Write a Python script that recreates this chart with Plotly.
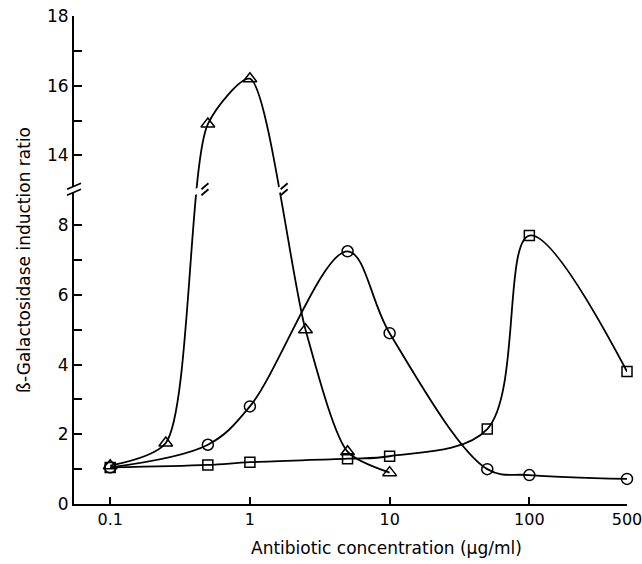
import math
import plotly.graph_objects as go

# values (x = antibiotic concentration, y = induction ratio)
conc_tri = [0.1, 0.25, 0.5, 1, 2.5, 5, 10]
ratio_tri = [1.1, 1.75, 14.9, 16.2, 5.0, 1.5, 0.9]

conc_circ = [0.1, 0.5, 1, 5, 10, 50, 100, 500]
ratio_circ = [1.05, 1.7, 2.8, 7.25, 4.9, 1.0, 0.83, 0.72]

conc_sq = [0.1, 0.5, 1, 5, 10, 50, 100, 500]
ratio_sq = [1.05, 1.12, 1.2, 1.3, 1.37, 2.15, 7.7, 3.8]

x_ticks = [0.1, 1, 10, 100, 500]
y_labels = [0, 2, 4, 6, 8, 14, 16, 18]
y_minor = [1, 3, 5, 7, 15, 17]

BREAK_LO, BREAK_HI = 8, 12   # axis jumps from 8 to 12 (drawn as 8 -> 14 two units later)


def to_axis(v):
    # broken y axis: values above the break are shifted down
    return v if v <= BREAK_LO else v - (BREAK_HI - BREAK_LO)


FONT = "DejaVu Sans"
fig = go.Figure()

for xs, ys, sym, size, sm in [(conc_tri, ratio_tri, "triangle-up-open", 12, 0.7),
                              (conc_circ, ratio_circ, "circle-open", 11, 1),
                              (conc_sq, ratio_sq, "square-open", 10, 1)]:
    fig.add_trace(go.Scatter(
        x=xs, y=[to_axis(v) for v in ys], mode="lines+markers",
        line=dict(color="black", width=1.8, shape="spline", smoothing=sm),
        marker=dict(symbol=sym, size=size, color="black", line=dict(width=1.5)),
        cliponaxis=False, showlegend=False, hoverinfo="skip"))

tickvals = [to_axis(v) for v in y_labels] + [to_axis(v) for v in y_minor]
ticktext = [str(v) for v in y_labels] + [""] * len(y_minor)

fig.update_layout(
    width=642, height=564,
    margin=dict(l=74, r=15, t=16, b=60),
    plot_bgcolor="white", paper_bgcolor="white",
    font=dict(family=FONT, size=16, color="black"),
    xaxis=dict(type="log", range=[math.log10(0.1) - 0.259, math.log10(500)],
               tickvals=x_ticks, ticktext=[str(v) for v in x_ticks],
               ticks="inside", ticklen=7, tickwidth=1.5, tickcolor="black",
               showline=True, linecolor="black", linewidth=2, automargin=False,
               ticklabeloverflow="allow",
               showgrid=False, zeroline=False, tickfont=dict(size=16)),
    yaxis=dict(range=[0, 14], tickvals=tickvals, ticktext=ticktext,
               ticks="inside", ticklen=8, tickwidth=1.5, tickcolor="black",
               showline=True, linecolor="black", linewidth=2, automargin=False,
               showgrid=False, zeroline=False, tickfont=dict(size=17)),
)

fig.add_annotation(text="Antibiotic concentration (µg/ml)", xref="paper", yref="paper",
                   x=0.566, y=0, yshift=-44, showarrow=False,
                   font=dict(size=17, family=FONT), yanchor="middle")
fig.add_annotation(text="ß-Galactosidase induction ratio", xref="paper", yref="paper",
                   x=0, xshift=-50, y=0.5, showarrow=False, textangle=-90,
                   font=dict(size=17, family=FONT), xanchor="center")


# break marks "//" on the axis and on the triangle curve
def break_mark(xref, x, y):
    common = dict(xref=xref, yref="y", xsizemode="pixel", ysizemode="pixel",
                  xanchor=x, yanchor=y)
    fig.add_shape(type="path", path="M-7,-5 L7,1 L7,7 L-7,1 Z",
                  fillcolor="white", line=dict(width=0), **common)
    for dy in (-5, 1):
        fig.add_shape(type="line", x0=-7, y0=dy, x1=7, y1=dy + 6,
                      line=dict(color="black", width=1.8), **common)


y_break = 9.0
break_mark("paper", 0, y_break)
break_mark("x", 0.45, y_break)
break_mark("x", 1.66, y_break)

# page body has a default 8px margin; drop it so the figure fills the window
fig.write_html("out.html", config={"displayModeBar": False},
               post_script="document.body.style.margin='0';")
